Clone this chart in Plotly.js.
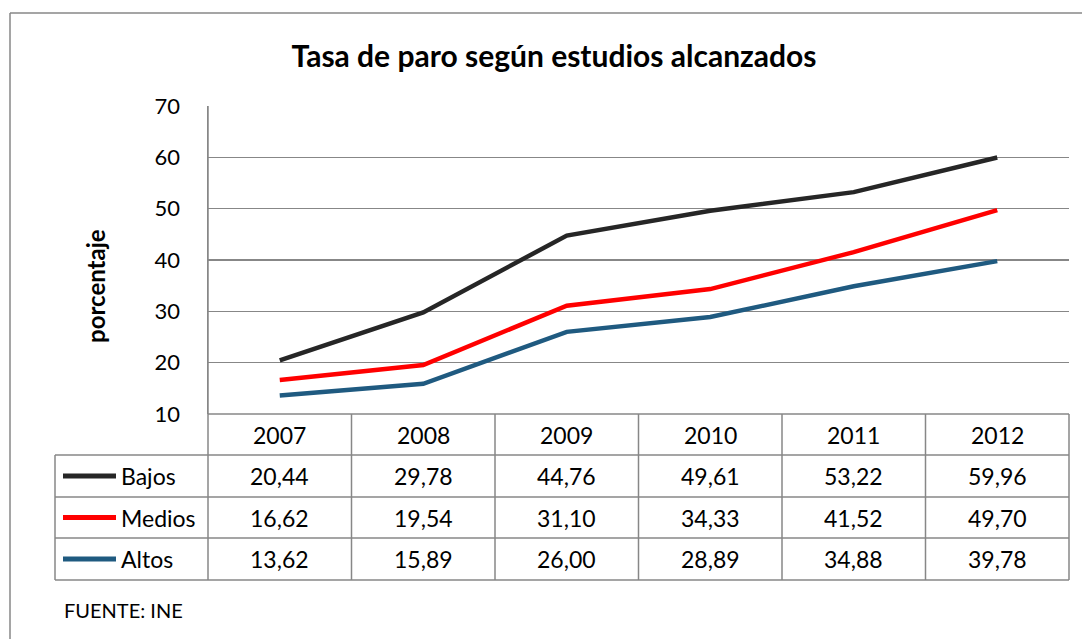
<!DOCTYPE html>
<html>
<head>
<meta charset="utf-8">
<script src="https://cdn.plot.ly/plotly-3.0.1.min.js"></script>
<style>html,body{margin:0;padding:0;background:#fff;}#chart{width:1082px;height:639px;}</style>
</head>
<body>
<div id="chart"></div>
<script>
const years = ['2007', '2008', '2009', '2010', '2011', '2012'];
const seriesNames = ['Bajos', 'Medios', 'Altos'];
const bajos = [20.44, 29.78, 44.76, 49.61, 53.22, 59.96];
const medios = [16.62, 19.54, 31.10, 34.33, 41.52, 49.70];
const altos = [13.62, 15.89, 26.00, 28.89, 34.88, 39.78];
const colors = ['#262626', '#FF0000', '#1F5A80'];
const chartTitle = 'Tasa de paro según estudios alcanzados';
const yTitle = 'porcentaje';
const sourceNote = 'FUENTE: INE';

const W = 1082, H = 639;
const L = 208, R = 1069, T = 106, B = 414;
const FONT = 'Lato, "Open Sans", sans-serif';
const GRID = '#878787';
const pw = R - L, ph = B - T;
const px = x => (x - L) / pw;
const py = y => (B - y) / ph;
const fmt = v => v.toFixed(2).replace('.', ',');

const allSeries = [bajos, medios, altos];
const traces = allSeries.map((vals, k) => ({
  type: 'scatter', mode: 'lines', x: years.map((_, i) => i), y: vals,
  name: seriesNames[k], line: {color: colors[k], width: 4.5},
  hoverinfo: 'skip', showlegend: false
}));

const n = years.length;
const rowTops = [414, 455, 497, 538, 580];
const shapes = [];
const line = (x0, y0, x1, y1, c, w) => shapes.push({type: 'line', xref: 'paper', yref: 'paper',
  x0: x0, y0: y0, x1: x1, y1: y1, line: {color: c || GRID, width: w || 1.5}});

// outer border
line(px(10), py(13), px(W + 5), py(13));
line(px(10), py(13), px(10), py(H + 5));
// table horizontal lines
line(0, py(414), 1, py(414));
for (let r = 1; r < rowTops.length; r++) line(px(55), py(rowTops[r]), 1, py(rowTops[r]));
// vertical lines
line(px(55), py(455), px(55), py(580));
line(0, py(106), 0, py(580));
for (let i = 1; i <= n; i++) line(i / n, py(414), i / n, py(580));

const annotations = [];
const txt = (x, y, t, opts) => annotations.push(Object.assign({xref: 'paper', yref: 'paper', x: x, y: y,
  text: t, showarrow: false, xanchor: 'center', yanchor: 'middle',
  font: {family: FONT, size: 23, color: '#000'}}, opts || {}));

years.forEach((yr, i) => txt((i + 0.5) / n, py(434.5), yr));
const rowCenters = [476, 517.5, 559];
allSeries.forEach((vals, k) => {
  const yc = py(rowCenters[k]);
  shapes.push({type: 'line', xref: 'paper', yref: 'paper', x0: px(63), x1: px(116), y0: yc, y1: yc,
    line: {color: colors[k], width: 5}});
  txt(px(119), yc, seriesNames[k], {xanchor: 'left'});
  vals.forEach((v, i) => txt((i + 0.5) / n, yc, fmt(v)));
});
txt(px(62), py(610), sourceNote, {xanchor: 'left', font: {family: FONT, size: 20, color: '#000'}});
txt(px(95), py(286), yTitle, {textangle: -90, font: {family: FONT, size: 24, color: '#000', weight: 'bold'}});

const layout = {
  width: W, height: H,
  margin: {l: L, r: W - R, t: T, b: H - B, pad: 0},
  paper_bgcolor: '#fff', plot_bgcolor: '#fff',
  title: {text: chartTitle, x: 554 / W, xanchor: 'center', xref: 'container',
    y: 1 - 56 / H, yanchor: 'middle', yref: 'container',
    font: {family: FONT, size: 30, color: '#000', weight: 'bold'}},
  xaxis: {range: [-0.5, n - 0.5], showticklabels: false, showgrid: false, zeroline: false,
    showline: false, ticks: '', fixedrange: true},
  yaxis: {range: [10, 70], dtick: 10, tick0: 10, showgrid: true, gridcolor: GRID, gridwidth: 1.5,
    zeroline: false, showline: true, linecolor: GRID, linewidth: 1.5, ticks: '',
    ticklabelstandoff: 22, tickfont: {family: FONT, size: 22, color: '#000'}, fixedrange: true},
  shapes: shapes, annotations: annotations
};
Plotly.newPlot('chart', traces, layout, {displayModeBar: false, staticPlot: true});
</script>
</body>
</html>
